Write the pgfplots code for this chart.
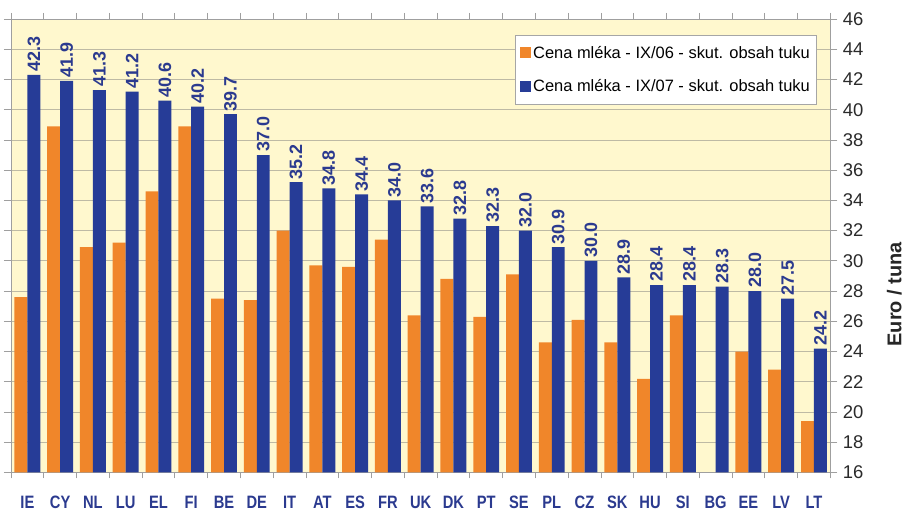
\documentclass[border=0pt]{standalone}
\usepackage{pgfplots}
\pgfplotsset{compat=1.18}
\usepackage{pgfplotstable}
\usepackage{fontspec}
\setmainfont{Liberation Sans}
\newfontfamily\condfont{Liberation Sans}[FakeStretch=0.82]
\definecolor{barorange}{HTML}{F0862A}
\definecolor{barblue}{HTML}{263C97}
\definecolor{bgyellow}{HTML}{FFF8CE}
\definecolor{gridc}{HTML}{BEBAA4}
\definecolor{labblue}{HTML}{2B3A8F}
\definecolor{ticktext}{HTML}{2A2A2A}
\pgfplotstableread{
x o b
0 27.6 42.3
1 38.9 41.9
2 30.9 41.3
3 31.2 41.2
4 34.6 40.6
5 38.9 40.2
6 27.5 39.7
7 27.4 37.0
8 32.0 35.2
9 29.7 34.8
10 29.6 34.4
11 31.4 34.0
12 26.4 33.6
13 28.8 32.8
14 26.3 32.3
15 29.1 32.0
16 24.6 30.9
17 26.1 30.0
18 24.6 28.9
19 22.2 28.4
20 26.4 28.4
21 nan 28.3
22 24.0 28.0
23 22.8 27.5
24 19.4 24.2
}\milk
\begin{document}
\begin{tikzpicture}
\begin{axis}[
  scale only axis, width=822pt, height=455pt,
  clip=false,
  xmin=-0.5, xmax=24.5, ymin=16, ymax=46,
  ybar=0pt, bar width=13pt,
  axis background/.style={fill=bgyellow},
  axis line style={draw=gray!75, line width=0.9pt},
  ytick={16,18,...,46},
  yticklabel pos=right,
  /pgf/number format/assume math mode=true,
  ymajorgrids, grid style={draw=gridc, line width=0.8pt},
  tick align=outside,
  major tick length=7pt,
  minor tick length=6pt,
  ytick style={draw=gray!75, line width=0.8pt},
  yticklabel style={font=\fontsize{18.5}{20}\selectfont, text=ticktext, xshift=2pt},
  xtick={0,...,24},
  xticklabels={IE,CY,NL,LU,EL,FI,BE,DE,IT,AT,ES,FR,UK,DK,PT,SE,PL,CZ,SK,HU,SI,BG,EE,LV,LT},
  major x tick style={draw=none},
  minor xtick={-0.5,0.5,...,24.5},
  minor x tick style={draw=gray!75, line width=0.8pt},
  xticklabel style={font=\condfont\bfseries\fontsize{18}{18}\selectfont, text=labblue, yshift=-13pt},
  legend style={at={(0.984,0.965)}, anchor=north east, draw=gray!70, line width=0.8pt, fill=white,
    font=\fontsize{16.5}{18}\selectfont, row sep=16pt, inner xsep=5pt, inner ysep=9pt},
  legend cell align=left,
]
\addplot[fill=barorange, draw=none,
  legend image code/.code={\fill[barorange] (0pt,-5pt) rectangle (11pt,6pt);}]
  table[x=x,y=o]{\milk};
\addlegendentry{Cena mléka - IX/06 - skut. obsah tuku}
\addplot[fill=barblue, draw=none,
  legend image code/.code={\fill[barblue] (0pt,-5pt) rectangle (11pt,6pt);},
  nodes near coords={\pgfmathprintnumber[fixed,fixed zerofill,precision=1,assume math mode=true]{\pgfplotspointmeta}},
  nodes near coords style={rotate=90, anchor=west, inner sep=3pt, font=\bfseries\fontsize{18}{18}\selectfont, text=labblue}]
  table[x=x,y=b]{\milk};
\addlegendentry{Cena mléka - IX/07 - skut. obsah tuku}
\node[rotate=90, font=\bfseries\fontsize{20}{20}\selectfont, text=black!85] at (rel axis cs:1.078,0.393) {Euro / tuna};
\path (rel axis cs:-0.0134,-0.0813) -- (rel axis cs:1.0876,1.0418);
\end{axis}
\end{tikzpicture}
\end{document}
